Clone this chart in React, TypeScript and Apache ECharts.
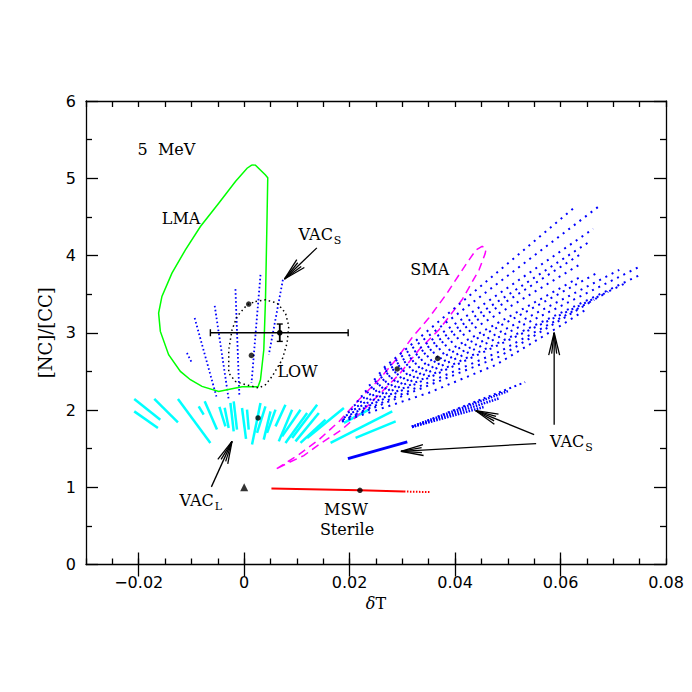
import React, { useEffect, useRef } from "react";
import * as echarts from "echarts";

type P = [number, number];

const X_MIN = -0.03;
const X_MAX = 0.08;
const Y_MIN = 0;
const Y_MAX = 6;
const xMajorTicks = [-0.02, 0, 0.02, 0.04, 0.06, 0.08];
const xMinorStep = 0.005;

// LMA allowed region (green contour)
const lmaContour: P[] = [
  [0.00149, 5.173], [0.00214, 5.17], [0.00404, 5.043], [0.00447, 5.005], [0.00434, 4.504],
  [0.00404, 3.427], [0.00372, 2.78], [0.00309, 2.392], [0.00263, 2.302], [-0.00041, 2.302],
  [-0.00231, 2.276], [-0.00483, 2.241], [-0.008, 2.306], [-0.0102, 2.392], [-0.0121, 2.5],
  [-0.01433, 2.716], [-0.0159, 3.017], [-0.01623, 3.255], [-0.0156, 3.47], [-0.0137, 3.772],
  [-0.01115, 4.073], [-0.0083, 4.375], [-0.00483, 4.677], [-0.00166, 4.957], [0.00055, 5.13],
  [0.00149, 5.173],
];

// LOW region (black dotted contour)
const lowContour: P[] = [
  [0.00214, 3.405], [0.00404, 3.427], [0.00624, 3.384], [0.00784, 3.255], [0.00846, 3.082],
  [0.00814, 2.867], [0.0072, 2.651], [0.0053, 2.435], [0.00404, 2.328], [0.00278, 2.285],
  [0.00025, 2.328], [-0.00166, 2.37], [-0.00293, 2.479], [-0.00293, 2.78], [-0.0023, 3.039],
  [-0.00135, 3.211], [0.00055, 3.362], [0.00214, 3.405],
];

// SMA region (magenta dashed contour)
const smaContour: P[] = [
  [0.00618, 1.241], [0.01036, 1.422], [0.01416, 1.616], [0.01796, 1.849], [0.02176, 2.134],
  [0.02556, 2.392], [0.02878, 2.651], [0.03182, 2.935], [0.03505, 3.194], [0.03828, 3.492],
  [0.04075, 3.75], [0.04265, 3.944], [0.04398, 4.073], [0.04512, 4.119], [0.04588, 4.086],
  [0.04569, 4.022], [0.04455, 3.815], [0.04132, 3.427], [0.03695, 3.039], [0.03315, 2.78],
  [0.02935, 2.457], [0.02556, 2.198], [0.02233, 1.979], [0.01853, 1.746], [0.01416, 1.552],
  [0.01131, 1.41], [0.00846, 1.319], [0.00618, 1.241],
];

// VAC_L solutions (cyan segments)  [x1, y1, x2, y2]
const vacLSegments: number[][] = [
  [-0.02085, 2.143, -0.01591, 1.875], [-0.02085, 1.982, -0.01636, 1.768],
  [-0.01705, 2.143, -0.01256, 1.84], [-0.01256, 2.143, -0.00641, 1.574],
  [-0.00863, 2.047, -0.00768, 1.94], [-0.00749, 2.112, -0.00516, 1.746],
  [-0.0047, 2.039, -0.00356, 1.788], [-0.0037, 2.03, -0.00294, 1.768],
  [-0.00261, 2.091, -0.00199, 1.724], [-0.00199, 2.112, -0.00136, 1.746],
  [-0.00041, 2.026, 0.00035, 1.626], [0.00054, 2.004, 0.00086, 1.746],
  [0.00309, 2.091, 0.00149, 1.552], [0.00404, 2.047, 0.00244, 1.703],
  [0.00499, 1.982, 0.00371, 1.616], [0.00594, 2.004, 0.00434, 1.703],
  [0.00783, 2.069, 0.00594, 1.788], [0.00909, 2.004, 0.00656, 1.594],
  [0.01068, 2.004, 0.00719, 1.659], [0.01194, 1.962, 0.00783, 1.574],
  [0.01384, 2.069, 0.00909, 1.638], [0.01416, 1.962, 0.00973, 1.594],
  [0.01543, 1.875, 0.01068, 1.574], [0.01891, 2.026, 0.01194, 1.638],
  [0.02366, 2.004, 0.01891, 1.832], [0.02808, 1.982, 0.01638, 1.574],
  [0.02873, 1.853, 0.02113, 1.638],
];

// VAC_S solutions near LOW (blue dotted)
const vacSLowSegments: number[][] = [
  [-0.01086, 2.738, -0.0099, 2.609],
  [-0.00939, 3.19, -0.00527, 2.176],
  [-0.00559, 3.349, -0.00293, 2.134],
  [-0.00166, 3.565, -0.0009, 2.169],
  [0.00309, 3.75, 0.00139, 2.35],
  [0.00734, 3.686, 0.00468, 2.716],
];

// VAC_S large fan (blue dotted rays)
const vacSFanRays: P[][] = [
  [[0.0265, 2.548], [0.06297, 4.642]],
  [[0.02556, 2.47], [0.06715, 4.63]],
  [[0.02461, 2.392], [0.0662, 4.345]],
  [[0.02366, 2.315], [0.06544, 4.177]],
  [[0.0229, 2.237], [0.06392, 4.022]],
  [[0.02214, 2.173], [0.06354, 3.879]],
  [[0.02138, 2.108], [0.06411, 3.737]],
  [[0.02081, 2.056], [0.06734, 3.789]],
  [[0.02024, 2.004], [0.07114, 3.815]],
  [[0.01967, 1.966], [0.07494, 3.854]],
  [[0.01929, 1.927], [0.07513, 3.75]],
  [[0.01891, 1.901], [0.04835, 2.845], [0.07209, 3.634]],
  [[0.01872, 1.875], [0.04835, 2.754], [0.06905, 3.53]],
  [[0.01853, 1.862], [0.04835, 2.69], [0.06639, 3.427]],
  [[0.01853, 1.849], [0.03505, 2.224], [0.04778, 2.586], [0.06031, 3.104], [0.06506, 3.31]],
];

// VAC_S narrow wedge
const vacSWedgeDense: P[][] = [
  [[0.03182, 1.785], [0.0502, 2.25]],
  [[0.03182, 1.78], [0.0483, 2.15]],
  [[0.03182, 1.78], [0.0455, 2.04]],
];
const vacSWedgeSparse: P[][] = [[[0.03182, 1.785], [0.05329, 2.36]]];

// VAC_S short solid blue line
const vacSSolid: P[] = [[0.01967, 1.371], [0.03093, 1.587]];

// MSW sterile (red)
const mswSolid: P[] = [[0.00517, 0.985], [0.02195, 0.96], [0.0303, 0.945]];
const mswDotted: P[] = [[0.0303, 0.945], [0.0354, 0.937]];

// best-fit points (black dots)
const bestFitPoints: P[] = [
  [0.00086, 3.371], [0.00137, 2.707], [0.00263, 1.897],
  [0.02903, 2.531], [0.0367, 2.668], [0.02195, 0.961],
];
// no-oscillation point (triangle)
const noOscPoint: P[] = [[0, 1.0]];

// measured point with errors: [x, y, xLow, xHigh, yLow, yHigh]
const errorBars: number[][] = [[0.00675, 3.0, -0.00641, 0.01972, 2.888, 3.113]];

// arrows: [tailX, tailY, tipX, tipY]
const arrows: number[][] = [
  [0.01378, 4.099, 0.00764, 3.695],
  [-0.00622, 1.005, -0.00231, 1.594],
  [0.05499, 1.681, 0.04392, 1.991],
  [0.05537, 1.565, 0.02973, 1.465],
  [0.05879, 1.81, 0.05879, 3.0],
];

// text labels
const labelTexts = ["5  MeV", "LMA", "VAC", "LOW", "SMA", "VAC", "VAC", "MSW", "Sterile"];
const labelSubs = ["", "", "S", "", "", "S", "L", "", ""];
const labelX = [-0.02022, -0.01196, 0.01682, 0.01011, 0.0352, 0.06449, -0.00578, 0.0193, 0.0195];
const labelY = [5.367, 4.481, 4.274, 2.493, 3.815, 1.591, 0.828, 0.718, 0.453];
const labelAlign = ["left", "center", "right", "center", "center", "right", "right", "center", "center"];

const SERIF = '"DejaVu Serif", serif';
const SANS = '"DejaVu Sans", sans-serif';
const BLACK = "#000";

function segs(list: number[][]) {
  return list.map((s) => ({ coords: [[s[0], s[1]], [s[2], s[3]]] }));
}

function linesSeries(name: string, data: any[], lineStyle: any, z = 2) {
  return {
    type: "lines",
    name,
    coordinateSystem: "cartesian2d",
    xAxisIndex: 0,
    yAxisIndex: 0,
    polyline: true,
    silent: true,
    z,
    lineStyle: { opacity: 1, cap: "butt", ...lineStyle },
    data,
  };
}

function buildOption(): any {
  const axisLine = { show: true, onZero: false, lineStyle: { color: BLACK, width: 1.3 } };
  const tickStyle = { color: BLACK, width: 1.3 };
  const fmtX = (v: number) => {
    const hit = xMajorTicks.find((t) => Math.abs(t - v) < 1e-9);
    if (hit === undefined) return "";
    if (hit === 0) return "0";
    return (hit < 0 ? "\u2212" : "") + Math.abs(hit).toFixed(2);
  };
  const xBase = { type: "value", min: X_MIN, max: X_MAX, splitLine: { show: false } };
  const yBase = { type: "value", min: Y_MIN, max: Y_MAX, interval: 1, splitLine: { show: false } };

  return {
    animation: false,
    backgroundColor: "#fff",
    grid: { left: 86, right: 26, top: 101, bottom: 127.5, containLabel: false },
    xAxis: [
      {
        ...xBase,
        position: "bottom",
        interval: xMinorStep,
        axisLine,
        axisTick: { show: true, inside: true, length: 6, lineStyle: tickStyle },
        axisLabel: { show: true, formatter: fmtX, margin: 10, fontFamily: SANS, fontSize: 16, color: BLACK },
        name: "{i|\u03b4}T",
        nameLocation: "middle",
        nameGap: 30,
        nameTextStyle: {
          fontFamily: SERIF,
          fontSize: 16,
          color: BLACK,
          rich: { i: { fontStyle: "italic", fontFamily: SERIF, fontSize: 16, color: BLACK } },
        },
      },
      {
        ...xBase,
        position: "bottom",
        interval: xMinorStep,
        axisLine: { show: false },
        axisTick: { show: true, inside: true, length: 12, customValues: xMajorTicks.slice(0, 5), lineStyle: tickStyle },
        axisLabel: { show: false },
      },
      {
        ...xBase,
        position: "top",
        interval: xMinorStep,
        axisLine,
        axisTick: { show: true, inside: true, length: 6, lineStyle: tickStyle },
        axisLabel: { show: false },
      },
      {
        ...xBase,
        position: "top",
        interval: xMinorStep,
        axisLine: { show: false },
        axisTick: { show: true, inside: true, length: 12, customValues: xMajorTicks.slice(0, 5), lineStyle: tickStyle },
        axisLabel: { show: false },
      },
    ],
    yAxis: [
      {
        ...yBase,
        position: "left",
        axisLine,
        axisTick: { show: true, inside: true, length: 12, lineStyle: tickStyle },
        minorTick: { show: true, splitNumber: 2, length: 6, lineStyle: tickStyle },
        axisLabel: { show: true, margin: 10, fontFamily: SANS, fontSize: 16, color: BLACK },
        name: "[NC]/[CC]",
        nameLocation: "middle",
        nameGap: 28,
        nameRotate: 90,
        nameTextStyle: { fontFamily: SERIF, fontSize: 18, color: BLACK },
      },
      {
        ...yBase,
        position: "right",
        axisLine,
        axisTick: { show: true, inside: true, length: 12, lineStyle: tickStyle },
        minorTick: { show: true, splitNumber: 2, length: 6, lineStyle: tickStyle },
        axisLabel: { show: false },
      },
    ],
    series: [
      linesSeries("VAC_L", segs(vacLSegments), { color: "#00ffff", width: 2.5, type: "solid" }, 2),
      linesSeries("SMA", [{ coords: smaContour }], { color: "#ff00ff", width: 1.5, type: [8, 5] }, 3),
      linesSeries("VAC_S fan", vacSFanRays.map((r) => ({ coords: r })), { color: "#0000ff", width: 2, type: [2, 5] }, 3),
      linesSeries("VAC_S wedge", vacSWedgeDense.map((r) => ({ coords: r })), { color: "#0000ff", width: 2.5, type: [1.5, 1.3] }, 3),
      linesSeries("VAC_S wedge edge", vacSWedgeSparse.map((r) => ({ coords: r })), { color: "#0000ff", width: 2, type: [2, 3.5] }, 3),
      linesSeries("VAC_S low", segs(vacSLowSegments), { color: "#0000ff", width: 1.8, type: [1.6, 2.4] }, 3),
      linesSeries("VAC_S solid", [{ coords: vacSSolid }], { color: "#0000ff", width: 3, type: "solid" }, 3),
      linesSeries("LMA", [{ coords: lmaContour }], { color: "#00ff00", width: 1.5, type: "solid" }, 4),
      linesSeries("LOW", [{ coords: lowContour }], { color: BLACK, width: 1.5, type: [1.5, 3] }, 4),
      linesSeries("MSW", [{ coords: mswSolid }], { color: "#ff0000", width: 2, type: "solid" }, 4),
      linesSeries("MSW dotted", [{ coords: mswDotted }], { color: "#ff0000", width: 2, type: [1.5, 1.5] }, 4),
      {
        type: "scatter",
        name: "best fit",
        xAxisIndex: 0,
        yAxisIndex: 0,
        symbol: "circle",
        symbolSize: 5.5,
        itemStyle: { color: BLACK },
        silent: true,
        z: 6,
        data: bestFitPoints,
      },
      {
        type: "scatter",
        name: "no oscillation",
        xAxisIndex: 0,
        yAxisIndex: 0,
        symbol: "triangle",
        symbolSize: 8,
        itemStyle: { color: BLACK },
        silent: true,
        z: 6,
        data: noOscPoint,
      },
      {
        type: "custom",
        name: "error bar",
        xAxisIndex: 0,
        yAxisIndex: 0,
        silent: true,
        clip: false,
        z: 7,
        data: errorBars.map((e) => [e[0], e[1]]),
        renderItem: (params: any, api: any) => {
          const e = errorBars[params.dataIndex];
          const c = api.coord([e[0], e[1]]);
          const xl = api.coord([e[2], e[1]]);
          const xh = api.coord([e[3], e[1]]);
          const yl = api.coord([e[0], e[4]]);
          const yh = api.coord([e[0], e[5]]);
          const st = { stroke: BLACK, lineWidth: 1.4, fill: null };
          return {
            type: "group",
            children: [
              { type: "line", shape: { x1: xl[0], y1: xl[1], x2: xh[0], y2: xh[1] }, style: st },
              { type: "line", shape: { x1: xl[0], y1: xl[1] - 3.5, x2: xl[0], y2: xl[1] + 3.5 }, style: st },
              { type: "line", shape: { x1: xh[0], y1: xh[1] - 3.5, x2: xh[0], y2: xh[1] + 3.5 }, style: st },
              { type: "line", shape: { x1: yl[0], y1: yl[1], x2: yh[0], y2: yh[1] }, style: { ...st, lineWidth: 1.8 } },
              { type: "line", shape: { x1: yl[0] - 3, y1: yl[1], x2: yl[0] + 3, y2: yl[1] }, style: st },
              { type: "line", shape: { x1: yh[0] - 3, y1: yh[1], x2: yh[0] + 3, y2: yh[1] }, style: st },
              { type: "circle", shape: { cx: c[0], cy: c[1], r: 2.8 }, style: { fill: BLACK } },
            ],
          };
        },
      },
      {
        type: "custom",
        name: "arrows",
        xAxisIndex: 0,
        yAxisIndex: 0,
        silent: true,
        clip: false,
        z: 7,
        data: arrows.map((a) => [a[2], a[3]]),
        renderItem: (params: any, api: any) => {
          const a = arrows[params.dataIndex];
          const t = api.coord([a[0], a[1]]);
          const h = api.coord([a[2], a[3]]);
          const dx = t[0] - h[0];
          const dy = t[1] - h[1];
          const len = Math.hypot(dx, dy) || 1;
          const ux = dx / len;
          const uy = dy / len;
          const barb = (ang: number, L: number) => {
            const c = Math.cos(ang);
            const s = Math.sin(ang);
            return [h[0] + L * (ux * c - uy * s), h[1] + L * (ux * s + uy * c)];
          };
          const st = { stroke: BLACK, lineWidth: 1.3, fill: null };
          const mk = (p: number[]) => ({ type: "line", shape: { x1: h[0], y1: h[1], x2: p[0], y2: p[1] }, style: st });
          return {
            type: "group",
            children: [
              { type: "line", shape: { x1: t[0], y1: t[1], x2: h[0], y2: h[1] }, style: st },
              mk(barb(0.24, 23)),
              mk(barb(-0.24, 23)),
              mk(barb(0.12, 21)),
              mk(barb(-0.12, 21)),
            ],
          };
        },
      },
      {
        type: "custom",
        name: "labels",
        xAxisIndex: 0,
        yAxisIndex: 0,
        silent: true,
        clip: false,
        z: 8,
        data: labelX.map((x, i) => [x, labelY[i]]),
        renderItem: (params: any, api: any) => {
          const i = params.dataIndex;
          const p = api.coord([labelX[i], labelY[i]]);
          const main = {
            type: "text",
            x: p[0],
            y: p[1],
            style: {
              text: labelTexts[i],
              fontFamily: SERIF,
              fontSize: 16,
              fill: BLACK,
              align: labelAlign[i],
              verticalAlign: "middle",
            },
          };
          if (!labelSubs[i]) return main;
          return {
            type: "group",
            children: [
              main,
              {
                type: "text",
                x: p[0] + 1,
                y: p[1] + 6,
                style: {
                  text: labelSubs[i],
                  fontFamily: SERIF,
                  fontSize: 11,
                  fill: BLACK,
                  align: "left",
                  verticalAlign: "middle",
                },
              },
            ],
          };
        },
      },
    ],
  };
}

export default function App() {
  const ref = useRef<HTMLDivElement>(null);
  useEffect(() => {
    if (!ref.current) return;
    const chart = echarts.init(ref.current, null, { renderer: "svg" });
    chart.setOption(buildOption());
    return () => chart.dispose();
  }, []);
  return (
    <div
      ref={ref}
      style={{ position: "fixed", left: 0, top: 0, width: 692, height: 692, background: "#fff" }}
    />
  );
}
